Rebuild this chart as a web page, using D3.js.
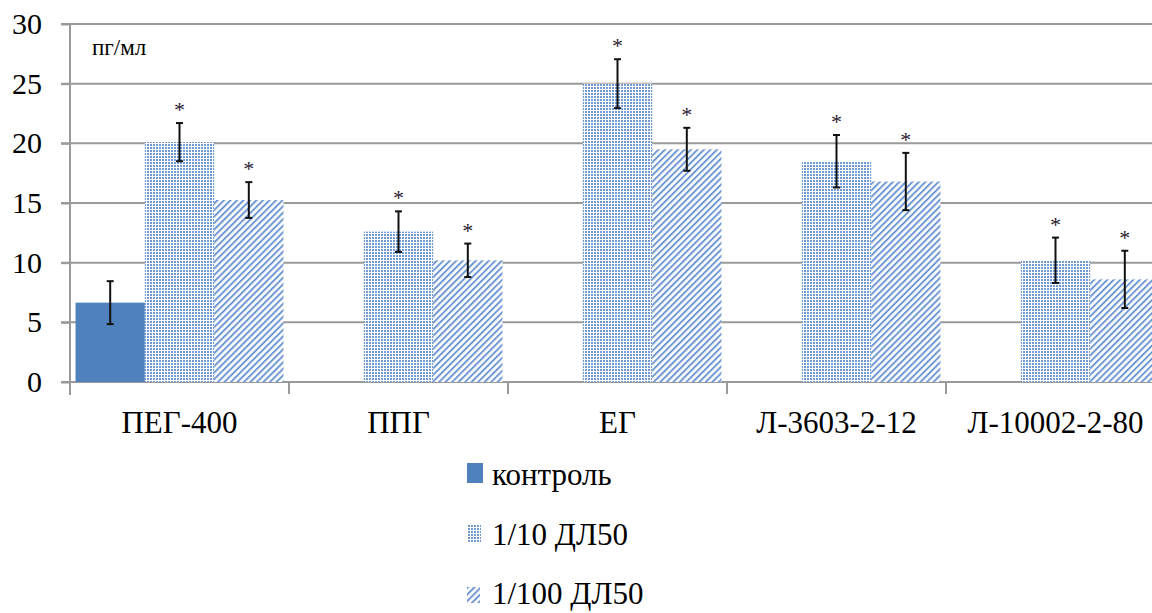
<!DOCTYPE html>
<html><head><meta charset="utf-8">
<script src="https://cdn.jsdelivr.net/npm/d3@7"></script>
<style>body{margin:0;background:#fff}svg{display:block}</style>
</head><body><svg id="c" width="1152" height="613"></svg>
<script>
const categories = ["ПЕГ-400", "ППГ", "ЕГ", "Л-3603-2-12", "Л-10002-2-80"];
const seriesNames = ["контроль", "1/10 ДЛ50", "1/100 ДЛ50"];
const control = [6.65, null, null, null, null];
const controlErr = [1.8, null, null, null, null];
const dose10 = [20.1, 12.6, 25.0, 18.5, 10.2];
const dose10Err = [1.6, 1.7, 2.05, 2.2, 1.9];
const dose100 = [15.25, 10.2, 19.5, 16.8, 8.6];
const dose100Err = [1.5, 1.4, 1.8, 2.4, 2.4];
const starred = [[false, false, false, false, false], [true, true, true, true, true], [true, true, true, true, true]];
const yTicks = [0, 5, 10, 15, 20, 25, 30];
const unitLabel = "пг/мл";

(function(){
const svg = d3.select("#c");
const blue = "#4f81bd";
const defs = svg.append("defs");
const p1 = defs.append("pattern").attr("id","dots").attr("patternUnits","userSpaceOnUse").attr("width",3).attr("height",3);
p1.append("rect").attr("width",3).attr("height",3).attr("fill","#fff");
p1.append("rect").attr("width",2).attr("height",2).attr("fill","#7199d2");
const p2 = defs.append("pattern").attr("id","diag").attr("patternUnits","userSpaceOnUse").attr("width",4.6).attr("height",4.6).attr("patternTransform","rotate(45)");
p2.append("rect").attr("width",4.6).attr("height",4.6).attr("fill","#fff");
p2.append("rect").attr("width",2).attr("height",4.6).attr("fill","#7199d2");
const fills = [blue, "url(#dots)", "url(#diag)"];

const mLeft = 70, mRight = 1165, mTop = 24, mBottom = 382;
const y = d3.scaleLinear().domain([0, 30]).range([mBottom, mTop]);
const x = d3.scaleBand().domain(categories).range([mLeft, mRight]);
const xs = d3.scaleBand().domain(seriesNames).range([0, x.bandwidth()]).paddingOuter(0.08);

const font = "'Liberation Serif','Times New Roman',serif";

svg.append("g").selectAll("line").data(yTicks).join("line")
  .attr("x1", mLeft - 9).attr("x2", mRight).attr("y1", d => y(d)).attr("y2", d => y(d))
  .attr("stroke", "#9a9a9a").attr("stroke-width", 2);

const ya = svg.append("g").attr("transform", `translate(${mLeft},0)`)
  .call(d3.axisLeft(y).tickValues(yTicks).tickSize(9).tickPadding(19));
ya.select(".domain").attr("stroke", "#9a9a9a").attr("stroke-width", 2).attr("d", `M0,${mTop}V${mBottom + 13}`);
ya.selectAll(".tick line").attr("stroke", "#9a9a9a").attr("stroke-width", 2);
ya.selectAll("text").attr("font-family", font).attr("font-size", 30).attr("fill", "#000");

const xa = svg.append("g").attr("transform", `translate(0,${mBottom})`)
  .call(d3.axisBottom(x).tickSize(0).tickPadding(29));
xa.select(".domain").remove();
xa.selectAll("text").attr("font-family", font).attr("font-size", 31).attr("fill", "#000");
svg.append("g").selectAll("line").data(d3.range(categories.length + 1)).join("line")
  .attr("x1", i => mLeft + i * x.step()).attr("x2", i => mLeft + i * x.step())
  .attr("y1", mBottom).attr("y2", mBottom + 12).attr("stroke", "#9a9a9a").attr("stroke-width", 2);

const series = [control, dose10, dose100];
const errs = [controlErr, dose10Err, dose100Err];
series.forEach((vals, s) => {
  const g = svg.append("g");
  const data = categories.map((c, i) => ({c, v: vals[i], e: errs[s][i], star: starred[s][i]})).filter(d => d.v != null);
  g.selectAll("rect").data(data).join("rect")
    .attr("x", d => x(d.c) + xs(seriesNames[s])).attr("width", xs.bandwidth())
    .attr("y", d => y(d.v)).attr("height", d => y(0) - y(d.v)).attr("fill", fills[s]);
  const cx = d => x(d.c) + xs(seriesNames[s]) + xs.bandwidth() / 2;
  g.selectAll("line.eb").data(data).join("line").attr("class","eb")
    .attr("x1", cx).attr("x2", cx).attr("y1", d => y(d.v + d.e)).attr("y2", d => y(d.v - d.e))
    .attr("stroke", "#111").attr("stroke-width", 2);
  ["t","b"].forEach(sg => {
    g.selectAll("line.cap"+sg).data(data).join("line").attr("class","cap"+sg)
      .attr("x1", d => cx(d) - 3.5).attr("x2", d => cx(d) + 3.5)
      .attr("y1", d => y(sg=="t" ? d.v + d.e : d.v - d.e)).attr("y2", d => y(sg=="t" ? d.v + d.e : d.v - d.e))
      .attr("stroke", "#111").attr("stroke-width", 2);
  });
  g.selectAll("text").data(data.filter(d => d.star)).join("text")
    .attr("x", cx).attr("y", d => y(d.v + d.e) - 6).attr("text-anchor", "middle")
    .attr("font-family", font).attr("font-size", 22).attr("fill", "#2a2030").text("*");
});

svg.append("text").attr("x", 92).attr("y", 55).attr("font-family", font).attr("font-size", 23).attr("fill", "#000").text(unitLabel);

const lg = svg.append("g");
const markY = [463, 525, 587];
const markW = [16, 14, 13];
const markH = [20, 18, 16];
const baseY = [485, 545, 604];
seriesNames.forEach((n, i) => {
  lg.append("rect").attr("x", 467).attr("y", markY[i]).attr("width", markW[i]).attr("height", markH[i]).attr("fill", fills[i]);
  lg.append("text").attr("x", 492).attr("y", baseY[i]).attr("font-family", font).attr("font-size", 31).attr("fill", "#000").text(n);
});
})();
</script></body></html>
